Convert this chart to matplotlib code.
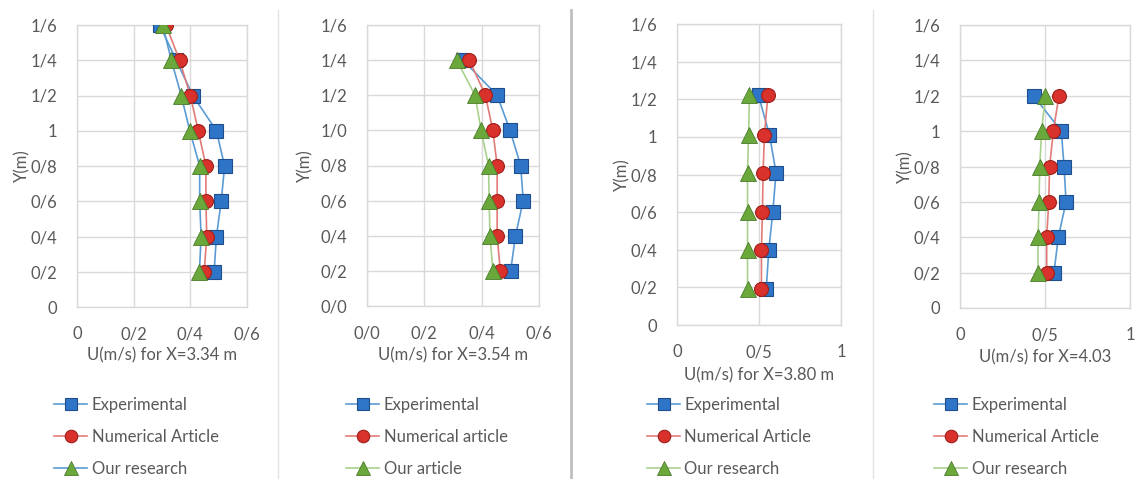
import matplotlib
matplotlib.use("Agg")
import matplotlib.pyplot as plt
from matplotlib.lines import Line2D

plt.rcParams['font.family'] = ['Lato', 'DejaVu Sans']

# ---- data -------------------------------------------------------------
y_p1 = [0.2, 0.4, 0.6, 0.8, 1.0, 1.2, 1.4, 1.6]
exp_p1 = [0.484, 0.492, 0.509, 0.521, 0.492, 0.409, 0.35, 0.292]
num_p1 = [0.449, 0.458, 0.455, 0.455, 0.428, 0.400, 0.362, 0.314]
our_p1 = [0.432, 0.438, 0.433, 0.433, 0.398, 0.368, 0.333, 0.302]

y_p2 = [0.2, 0.4, 0.6, 0.8, 1.0, 1.2, 1.4]
exp_p2 = [0.501, 0.518, 0.545, 0.536, 0.499, 0.454, 0.335]
num_p2 = [0.465, 0.454, 0.454, 0.454, 0.439, 0.413, 0.357]
our_p2 = [0.439, 0.429, 0.426, 0.424, 0.398, 0.377, 0.313]

y_p3 = [0.19, 0.40, 0.60, 0.81, 1.01, 1.22]
exp_p3 = [0.544, 0.560, 0.584, 0.604, 0.564, 0.497]
num_p3 = [0.515, 0.515, 0.521, 0.525, 0.533, 0.554]
our_p3 = [0.430, 0.430, 0.430, 0.430, 0.436, 0.442]

y_p4 = [0.2, 0.4, 0.6, 0.8, 1.0, 1.2]
exp_p4 = [0.553, 0.578, 0.624, 0.612, 0.596, 0.433]
num_p4 = [0.510, 0.510, 0.522, 0.527, 0.549, 0.582]
our_p4 = [0.459, 0.459, 0.465, 0.469, 0.480, 0.502]

y_ticks = [0, 0.2, 0.4, 0.6, 0.8, 1.0, 1.2, 1.4, 1.6]
y_labels_a = ['0', '0/2', '0/4', '0/6', '0/8', '1', '1/2', '1/4', '1/6']
y_labels_b = ['0/0', '0/2', '0/4', '0/6', '0/8', '1/0', '1/2', '1/4', '1/6']
x_ticks_a = [0, 0.2, 0.4, 0.6]
x_labels_1 = ['0', '0/2', '0/4', '0/6']
x_labels_2 = ['0/0', '0/2', '0/4', '0/6']
x_ticks_b = [0, 0.5, 1.0]
x_labels_b = ['0', '0/5', '1']

x_titles = ['U(m/s) for X=3.34 m', 'U(m/s) for X=3.54 m',
            'U(m/s) for X=3.80 m', 'U(m/s) for X=4.03']
labels_exp = ['Experimental'] * 4
labels_num = ['Numerical Article', 'Numerical article',
              'Numerical Article', 'Numerical Article']
labels_our = ['Our research', 'Our article', 'Our research', 'Our research']

# ---- style ------------------------------------------------------------
TXT = '#595959'
GRID = '#d9d9d9'
BLUE_M, BLUE_E, BLUE_L = '#2e75c8', '#1f4e8c', '#5b9bd5'
RED_M, RED_E, RED_L = '#d9312b', '#9e1f1a', '#e27b78'
GRN_M, GRN_E, GRN_L = '#6aa83c', '#4a7a28', '#a9d18e'

fig = plt.figure(figsize=(11.36, 4.79), dpi=100)

panels = [
    dict(rect=[77, 25, 247, 307], y=y_p1, e=exp_p1, n=num_p1, o=our_p1,
         xt=x_ticks_a, xl=x_labels_1, xlim=(0, 0.6), yl=y_labels_a,
         our_line=BLUE_L, ylab_x=22, leg=(54, 397), xtitle_y=355),
    dict(rect=[367, 25, 539, 306], y=y_p2, e=exp_p2, n=num_p2, o=our_p2,
         xt=x_ticks_a, xl=x_labels_2, xlim=(0, 0.6), yl=y_labels_b,
         our_line=GRN_L, ylab_x=305, leg=(346, 397), xtitle_y=355),
    dict(rect=[677, 24, 841, 325], y=y_p3, e=exp_p3, n=num_p3, o=our_p3,
         xt=x_ticks_b, xl=x_labels_b, xlim=(0, 1.0), yl=y_labels_a,
         our_line=GRN_L, ylab_x=622, leg=(647, 397), xtitle_y=375),
    dict(rect=[960, 25, 1130, 308], y=y_p4, e=exp_p4, n=num_p4, o=our_p4,
         xt=x_ticks_b, xl=x_labels_b, xlim=(0, 1.0), yl=y_labels_a,
         our_line=GRN_L, ylab_x=905, leg=(934, 397), xtitle_y=357),
]

W, H = 1136.0, 479.0
for i, p in enumerate(panels):
    l, t, r, b = p['rect']
    ax = fig.add_axes([l / W, 1 - b / H, (r - l) / W, (b - t) / H])
    ax.set_xlim(*p['xlim'])
    ax.set_ylim(0, 1.6)
    ax.set_xticks(p['xt'])
    ax.set_xticklabels(p['xl'])
    ax.set_yticks(y_ticks)
    ax.set_yticklabels(p['yl'])
    ax.grid(True, color=GRID, lw=1.0)
    ax.set_axisbelow(True)
    for s in ax.spines.values():
        s.set_color(GRID)
        s.set_linewidth(1.0)
    ax.tick_params(length=0, labelsize=12, colors=TXT)
    ax.tick_params(axis='y', pad=14)
    ax.tick_params(axis='x', pad=14)

    ax.plot(p['e'], p['y'], color=BLUE_L, lw=1.2, marker='s', ms=10,
            mfc=BLUE_M, mec=BLUE_E, mew=0.8, zorder=3)
    ax.plot(p['n'], p['y'], color=RED_L, lw=1.2, marker='o', ms=10,
            mfc=RED_M, mec=RED_E, mew=0.8, zorder=4)
    ax.plot(p['o'], p['y'], color=p['our_line'], lw=1.2, marker='^', ms=11,
            mfc=GRN_M, mec=GRN_E, mew=0.6, zorder=5)

    fig.text(p['ylab_x'] / W, 1 - ((t + b) / 2) / H, 'Y(m)', rotation=90,
             ha='center', va='center', fontsize=12, color=TXT)
    fig.text(((l + r) / 2) / W, 1 - p['xtitle_y'] / H, x_titles[i],
             ha='center', va='center', fontsize=12, color=TXT)

    handles = [
        Line2D([], [], color=BLUE_L, lw=1.2, marker='s', ms=9,
               mfc=BLUE_M, mec=BLUE_E, mew=0.8),
        Line2D([], [], color=RED_L, lw=1.2, marker='o', ms=9,
               mfc=RED_M, mec=RED_E, mew=0.8),
        Line2D([], [], color=p['our_line'], lw=1.2, marker='^', ms=10,
               mfc=GRN_M, mec=GRN_E, mew=0.6),
    ]
    lx, ly = p['leg']
    fig.legend(handles, [labels_exp[i], labels_num[i], labels_our[i]],
               loc='upper left', bbox_to_anchor=(lx / W, 1 - ly / H),
               frameon=False, fontsize=12, labelcolor=TXT,
               handlelength=2.0, handletextpad=0.25, labelspacing=0.95,
               borderaxespad=0, borderpad=0)

# panel separators
for xs, col, lw in [(278, '#e3e3e3', 1.0), (571, '#bfbfbf', 2.0),
                    (873, '#e3e3e3', 1.0)]:
    fig.add_artist(Line2D([xs / W, xs / W], [0, 1 - 10 / H], color=col,
                          lw=lw, transform=fig.transFigure))

fig.savefig('out.png', dpi=100, facecolor='white')
